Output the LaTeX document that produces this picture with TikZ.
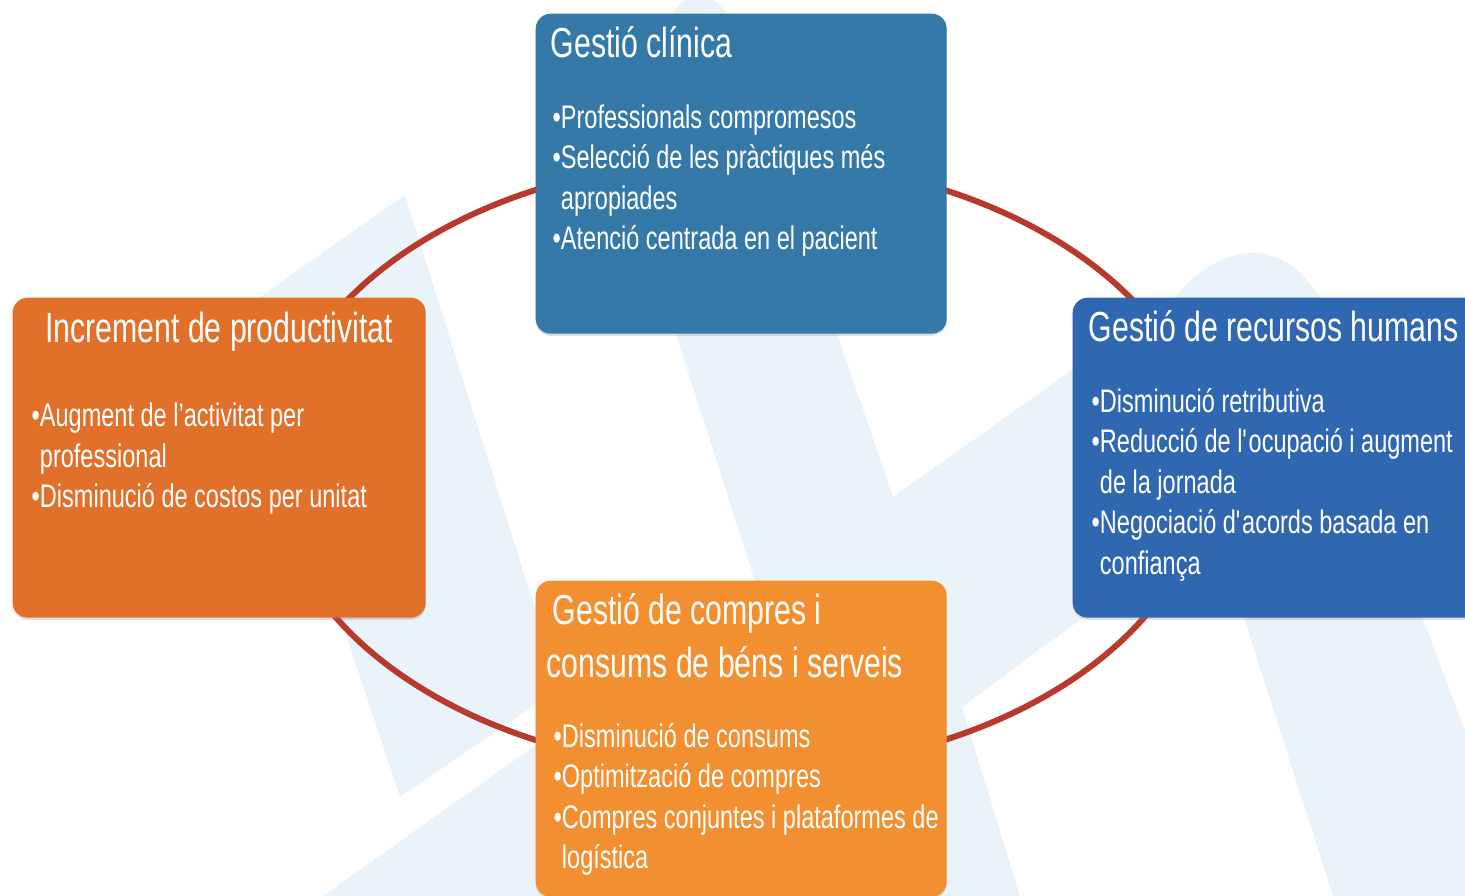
\documentclass[tikz,border=0pt]{standalone}
\usepackage{fontspec}
\setmainfont{Liberation Sans}[FakeStretch=0.72]
\usepackage{xcolor}
\usepackage{tikz}
\usetikzlibrary{shadows}

\definecolor{clinblue}{RGB}{53,121,168}
\definecolor{hrblue}{RGB}{47,103,176}
\definecolor{prodorange}{RGB}{224,112,42}
\definecolor{buyorange}{RGB}{242,143,48}
\definecolor{ringred}{RGB}{183,58,44}
\definecolor{wmark}{RGB}{234,243,250}

\begin{document}
\begin{tikzpicture}[
    box/.style={rounded corners=0.15cm, anchor=north west, inner sep=0pt,
      drop shadow={shadow xshift=0pt, shadow yshift=-0.6pt, opacity=0.25}},
    head/.style={text=white, inner sep=0pt, align=left,
      font=\fontsize{11.95}{15.1}\selectfont},
    items/.style={text=white, inner sep=0pt, align=left, anchor=base west,
      font=\fontsize{9.3}{11.55}\selectfont},
    ring/.style={ringred, line width=1.7pt}]
    \clip (0,0) rectangle (14.65,-8.96);
    % watermark
    \fill[wmark] (4.05,-1.95) -- (5.60,-6.88) -- (4.00,-7.97) -- (3.40,-6.17) -- (2.00,-3.39) -- cycle;
    \fill[wmark] (3.23,-8.96) -- (5.60,-7.28) -- (5.60,-8.96) -- cycle;
    \fill[wmark] (6.01,-1.00) -- (6.75,-0.10) .. controls (6.90,0.12) and (7.25,0.12) .. (7.37,-0.40)
      -- (8.93,-4.97) -- (11.75,-2.97) .. controls (12.10,-2.55) and (12.75,-2.20) .. (13.25,-3.05)
      -- (11.07,-6.00) -- (9.62,-7.07) -- (10.20,-8.96) -- (7.00,-8.96) -- (7.61,-6.00) -- cycle;
    \fill[wmark] (12.35,-5.90) -- (13.33,-8.96) -- (15.27,-8.96) -- (14.12,-5.90) -- cycle;
    % ring
    \coordinate (hub) at (7.40,-4.65);
    \draw[ring] (hub) ellipse [x radius=4.66, y radius=3.06];
    % boxes
    \node[box, fill=clinblue, minimum width=4.11cm, minimum height=3.20cm] (clin) at (5.35,-0.13) {};
    \node[box, fill=prodorange, minimum width=4.13cm, minimum height=3.20cm] (prod) at (0.12,-2.97) {};
    \node[box, fill=hrblue, minimum width=4.30cm, minimum height=3.20cm] (hr) at (10.72,-2.97) {};
    \node[box, fill=buyorange, minimum width=4.11cm, minimum height=3.16cm] (buy) at (5.35,-5.80) {};
    % texts (base = last line)
    \node[head, anchor=base west] (clin-head) at ([shift={(0.15,-0.45)}]clin.north west) {Gestió clínica};
    \node[items] (clin-items) at ([shift={(0.17,-2.37)}]clin.north west)
      {•Professionals compromesos\\•Selecció de les pràctiques més\\\phantom{•}apropiades\\•Atenció centrada en el pacient};
    \node[head, anchor=base] (prod-head) at ([shift={(0,-0.46)}]prod.north) {Increment de productivitat};
    \node[items] (prod-items) at ([shift={(0.19,-2.11)}]prod.north west)
      {•Augment de l’activitat per\\\phantom{•}professional\\•Disminució de costos per unitat};
    \node[head, anchor=base west] (hr-head) at ([shift={(0.16,-0.45)}]hr.north west) {Gestió de recursos humans};
    \node[items] (hr-items) at ([shift={(0.19,-2.775)}]hr.north west)
      {•Disminució retributiva\\•Reducció de l\textquotesingle ocupació i augment\\\phantom{•}de la jornada\\•Negociació d\textquotesingle acords basada en\\\phantom{•}confiança};
    \node[head, anchor=base west] (buy-head) at ([shift={(0.11,-0.98)}]buy.north west)
      {\hspace*{1.7pt}Gestió de compres i\\consums de béns i serveis};
    \node[items] (buy-items) at ([shift={(0.18,-2.89)}]buy.north west)
      {•Disminució de consums\\•Optimització de compres\\•Compres conjuntes i plataformes de\\\phantom{•}logística};
\end{tikzpicture}
\end{document}
